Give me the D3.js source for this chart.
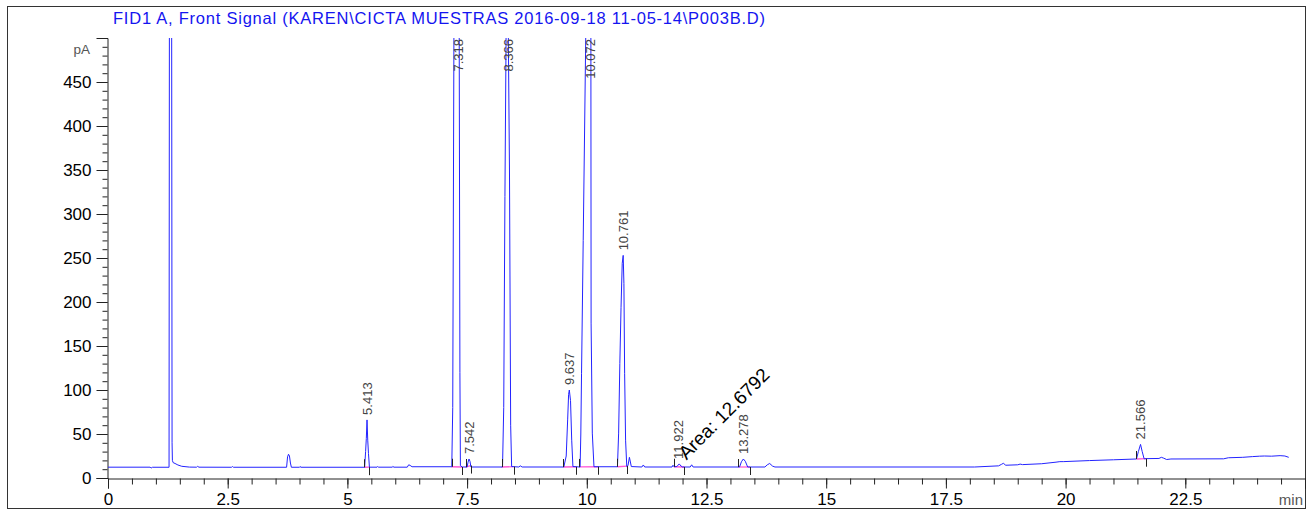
<!DOCTYPE html>
<html>
<head>
<meta charset="utf-8">
<script src="https://cdn.jsdelivr.net/npm/d3@7"></script>
<style>
  html, body { margin: 0; padding: 0; background: #fff; }
  svg { display: block; }
  text { font-family: "Liberation Sans", Arial, sans-serif; }
</style>
</head>
<body>
<svg id="chart" width="1307" height="510"></svg>
<script>
// Chromatogram title
const chartTitle = "FID1 A, Front Signal (KAREN\\CICTA MUESTRAS 2016-09-18 11-05-14\\P003B.D)";

// Detector trace: retention time (min) and signal (pA)
const traceTime = [
  0.00, 0.88, 0.90, 0.93, 1.275, 1.282, 1.330, 1.338, 1.345, 1.36, 1.40, 1.46, 1.54, 1.70,
  1.85, 1.87, 1.90, 2.58, 2.60, 2.62, 3.73, 3.75, 3.77, 3.79, 3.81, 3.83, 4.00, 4.01, 4.03,
  5.36, 5.38, 5.395, 5.41, 5.425, 5.44, 5.46, 5.62, 5.63, 5.65, 5.94, 5.95, 5.97,
  6.25, 6.28, 6.31, 6.35, 7.18, 7.20, 7.225, 7.335, 7.35, 7.36, 7.40,
  7.50, 7.52, 7.54, 7.56, 7.58, 8.24, 8.265, 8.29, 8.315, 8.36, 8.385, 8.41, 8.43,
  8.58, 8.61, 8.65, 9.52, 9.57, 9.60, 9.62, 9.635, 9.66, 9.685, 9.71,
  9.86, 9.875, 9.89, 9.925, 9.955, 9.98, 10.085, 10.09, 10.115, 10.15,
  10.64, 10.665, 10.69, 10.715, 10.74, 10.76, 10.775, 10.79, 10.81, 10.835, 10.86, 10.89, 10.93,
  11.15, 11.18, 11.21, 11.78, 11.80, 11.82, 11.88, 11.93, 11.97, 12.00, 12.16, 12.19, 12.22,
  13.19, 13.23, 13.27, 13.31, 13.36, 13.72, 13.77, 13.82, 13.88, 13.93,
  18.10, 18.60, 18.66, 18.70, 18.75, 19.00, 19.05, 19.10, 19.50, 19.80, 19.88, 19.95,
  20.50, 21.00, 21.48, 21.52, 21.565, 21.60, 21.64, 21.70, 21.95, 22.00, 22.05, 22.11, 22.20,
  23.30, 23.40, 23.70, 23.90, 24.05, 24.15, 24.30, 24.48, 24.58, 24.66
];
const traceSignal = [
  12.3, 12.3, 11.3, 12.2, 12.2, 510, 510, 40, 20, 17.5, 16.5, 14.8, 13.3, 12.4,
  12.3, 13.2, 12.3, 12.2, 13.0, 12.2, 12.2, 24, 27, 25, 17, 12.2, 12.2, 13.0, 12.2,
  12.2, 30, 45, 66, 43, 28, 12.3, 12.3, 13.0, 12.3, 12.3, 13.2, 12.3,
  12.3, 15.0, 14.3, 12.8, 12.8, 80, 510, 510, 120, 14, 12.5,
  12.5, 18, 21.6, 19, 12.5, 12.5, 80, 320, 510, 510, 350, 60, 13,
  12.5, 13.8, 12.5, 12.5, 25, 66, 95, 100, 88, 43, 13,
  12.5, 50, 119, 270, 400, 510, 510, 176, 51, 12.8,
  12.8, 51, 130, 194, 244, 253, 221, 119, 43, 13, 14, 23.5, 13,
  12.5, 14.8, 12.5, 12.5, 14.5, 12.8, 13, 16, 13.5, 12.5, 12.5, 15, 12.5,
  12.5, 18.5, 21.6, 19, 12.5, 12.5, 15, 16.5, 13.5, 12.5,
  12.5, 13.8, 15.5, 16.7, 14.5, 15.0, 15.8, 15.2, 16.2, 18.0, 18.6, 18.6,
  19.8, 20.7, 21.6, 30, 38.2, 30, 21.8, 22.0, 22.2, 23.5, 22.5, 21.0, 21.6,
  21.8, 23.0, 23.5, 24.3, 24.8, 25.0, 24.8, 25.4, 25.0, 23.5
];

// Integrated peaks: apex retention time, integration start and end (min)
const peakRT    = [5.413, 7.318, 7.542, 8.366, 9.637, 10.072, 10.761, 11.922, 13.278, 21.566];
const peakStart = [5.355, 7.175, 7.47,  8.22,  9.51,  9.84,   10.64,  11.82,  13.165, 21.48];
const peakEnd   = [5.46,  7.40,  7.575, 8.47,  9.775, 10.24,  10.85,  12.04,  13.41,  21.68];

// Manual integration annotation
const areaLabel = "Area: 12.6792";
const areaAnchor = [12.08, 20];

// Axis ticks
const xMajorTicks = [0, 2.5, 5, 7.5, 10, 12.5, 15, 17.5, 20, 22.5, 25];
const xMinorStep = 0.5;
const yMajorTicks = [0, 50, 100, 150, 200, 250, 300, 350, 400, 450];
const yMinorStep = 10;
const xUnit = "min";
const yUnit = "pA";

(function draw() {
  const svg = d3.select("#chart");
  const plotL = 108, plotR = 1305, plotT = 38, plotB = 478;

  const x = d3.scaleLinear().domain([0, 25]).range([plotL, plotR]);
  const y = d3.scaleLinear().domain([0, 500]).range([plotB, plotT]);

  // Outer frame
  svg.append("rect")
    .attr("x", 7.5).attr("y", 6.5)
    .attr("width", plotR - 7).attr("height", 502)
    .attr("fill", "none").attr("stroke", "#333").attr("stroke-width", 1);

  // Title
  svg.append("text")
    .attr("x", 113).attr("y", 24)
    .attr("fill", "#1414f0").attr("font-size", 16.5)
    .attr("textLength", 652).attr("lengthAdjust", "spacing")
    .text(chartTitle);

  // Clip for the trace
  svg.append("defs").append("clipPath").attr("id", "plotClip")
    .append("rect").attr("x", plotL).attr("y", plotT)
    .attr("width", plotR - plotL).attr("height", plotB - plotT);

  // Y axis: minor and major ticks
  const yMinor = d3.range(0, 500.1, yMinorStep);
  const yAxisMinor = svg.append("g").attr("transform", `translate(${plotL - 0.5},0)`)
    .call(d3.axisLeft(y).tickValues(yMinor).tickSize(5).tickFormat(""));
  const yAxisMajor = svg.append("g").attr("transform", `translate(${plotL - 0.5},0)`)
    .call(d3.axisLeft(y).tickValues(yMajorTicks).tickSize(11).tickPadding(5).tickFormat(d3.format("d")));
  [yAxisMinor, yAxisMajor].forEach(g => {
    g.select(".domain").attr("stroke", "#222");
    g.selectAll(".tick line").attr("stroke", "#222");
  });
  yAxisMinor.select(".domain").remove();
  yAxisMajor.selectAll("text").attr("font-size", 17).attr("fill", "#000")
    .attr("font-family", "Liberation Sans, Arial, sans-serif");

  svg.append("text")
    .attr("x", 90).attr("y", 54)
    .attr("text-anchor", "end").attr("font-size", 13.5).attr("fill", "#555")
    .text(yUnit);

  // X axis: minor and major ticks
  const xMinor = d3.range(0, 25.01, xMinorStep);
  const xAxisMinor = svg.append("g").attr("transform", `translate(0,${plotB + 0.5})`)
    .call(d3.axisBottom(x).tickValues(xMinor).tickSize(6).tickFormat(""));
  const xAxisMajor = svg.append("g").attr("transform", `translate(0,${plotB + 0.5})`)
    .call(d3.axisBottom(x).tickValues(xMajorTicks).tickSize(10).tickPadding(4)
      .tickFormat(d => d === 25 ? "" : String(d)));
  [xAxisMinor, xAxisMajor].forEach(g => {
    g.select(".domain").attr("stroke", "#222");
    g.selectAll(".tick line").attr("stroke", "#222");
  });
  xAxisMinor.select(".domain").remove();
  xAxisMajor.selectAll("text").attr("font-size", 17).attr("fill", "#000")
    .attr("font-family", "Liberation Sans, Arial, sans-serif");

  svg.append("text")
    .attr("x", 1303).attr("y", 505)
    .attr("text-anchor", "end").attr("font-size", 15).attr("fill", "#555")
    .text(xUnit);

  // Signal lookup along the trace (for baselines and label heights)
  const bis = d3.bisector(d => d).left;
  function signalAt(t) {
    const i = Math.max(1, Math.min(traceTime.length - 1, bis(traceTime, t)));
    const t0 = traceTime[i - 1], t1 = traceTime[i];
    const u = (t - t0) / (t1 - t0);
    return traceSignal[i - 1] + u * (traceSignal[i] - traceSignal[i - 1]);
  }

  const plot = svg.append("g").attr("clip-path", "url(#plotClip)");

  // Integration baselines
  peakRT.forEach((rt, i) => {
    const s = peakStart[i], e = peakEnd[i];
    plot.append("line")
      .attr("x1", x(s)).attr("y1", y(signalAt(s)))
      .attr("x2", x(e)).attr("y2", y(signalAt(e)))
      .attr("stroke", "#ff5ad8").attr("stroke-width", 1.3);
  });

  // Trace
  const pts = traceTime.map((t, i) => [t, traceSignal[i]]);
  plot.append("path")
    .datum(pts)
    .attr("fill", "none")
    .attr("stroke", "#2323ff")
    .attr("stroke-width", 1)
    .attr("d", d3.line().x(d => x(d[0])).y(d => y(d[1])));

  // Start / end tick marks of each integrated peak
  peakRT.forEach((rt, i) => {
    const s = peakStart[i], e = peakEnd[i];
    const ys = y(signalAt(s)), ye = y(signalAt(e));
    svg.append("line")
      .attr("x1", Math.round(x(s)) + 0.5).attr("x2", Math.round(x(s)) + 0.5)
      .attr("y1", ys - 8).attr("y2", ys)
      .attr("stroke", "#222").attr("stroke-width", 1);
    svg.append("line")
      .attr("x1", Math.round(x(e)) + 0.5).attr("x2", Math.round(x(e)) + 0.5)
      .attr("y1", ye).attr("y2", ye + 8)
      .attr("stroke", "#222").attr("stroke-width", 1);
  });

  // Retention time labels
  peakRT.forEach((rt, i) => {
    let apex = 0;
    traceTime.forEach((t, k) => {
      if (t >= peakStart[i] && t <= peakEnd[i]) apex = Math.max(apex, traceSignal[k]);
    });
    apex = Math.min(apex, 500);
    const lab = svg.append("text")
      .attr("font-size", 13).attr("fill", "#444")
      .attr("dy", "0.35em")
      .text(rt.toFixed(3));
    const len = lab.node().getComputedTextLength();
    const ly = y(apex) - 5;
    if (ly - len < plotT + 1) {
      lab.attr("text-anchor", "end")
        .attr("transform", `translate(${x(rt)},${plotT + 1}) rotate(-90)`);
    } else {
      lab.attr("text-anchor", "start")
        .attr("transform", `translate(${x(rt)},${ly}) rotate(-90)`);
    }
  });

  // Area annotation
  svg.append("text")
    .attr("transform", `translate(${x(areaAnchor[0])},${y(areaAnchor[1])}) rotate(-45)`)
    .attr("font-size", 19).attr("fill", "#000")
    .text(areaLabel);
})();
</script>
</body>
</html>
